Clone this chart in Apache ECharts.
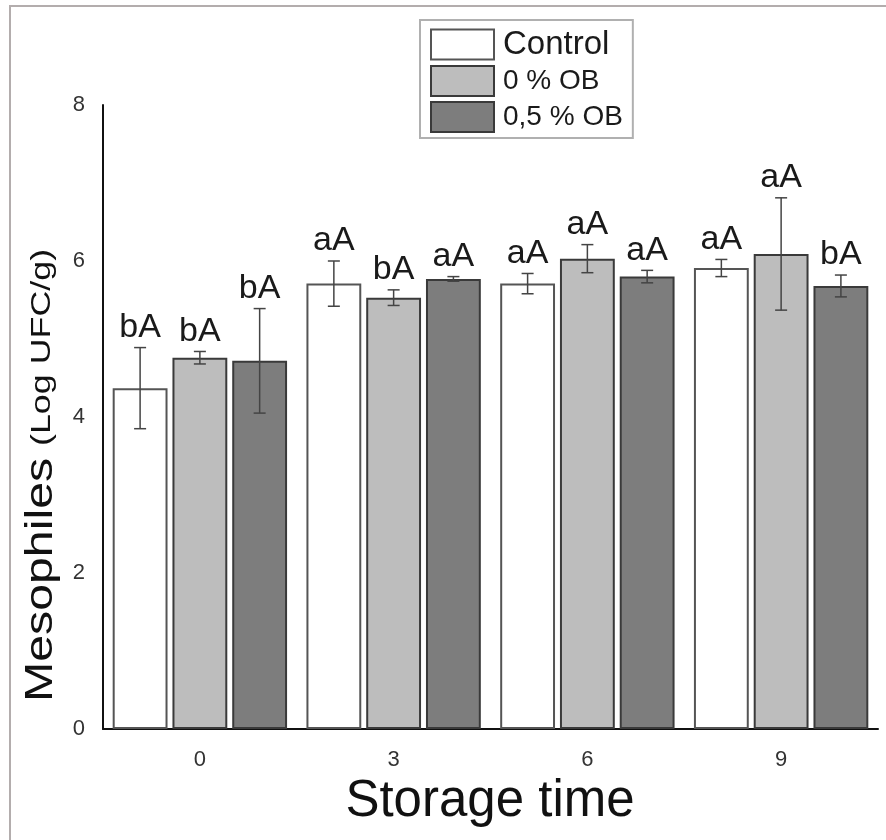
<!DOCTYPE html>
<html>
<head>
<meta charset="utf-8">
<script src="https://cdn.jsdelivr.net/npm/echarts@6/dist/echarts.min.js"></script>
<style>
html,body{margin:0;padding:0;background:#fff;}
#chart{width:886px;height:840px;}
</style>
</head>
<body>
<div id="chart"></div>
<script>
const categories = ['0', '3', '6', '9'];
const seriesNames = ['Control', '0 % OB', '0,5 % OB'];
const controlMean = [4.37, 5.71, 5.71, 5.91];
const controlErr = [0.52, 0.29, 0.13, 0.11];
const controlLetters = ['bA', 'aA', 'aA', 'aA'];
const ob0Mean = [4.76, 5.53, 6.03, 6.09];
const ob0Err = [0.08, 0.10, 0.18, 0.72];
const ob0Letters = ['bA', 'bA', 'aA', 'aA'];
const ob05Mean = [4.72, 5.77, 5.80, 5.68];
const ob05Err = [0.67, 0.03, 0.08, 0.14];
const ob05Letters = ['bA', 'aA', 'aA', 'bA'];
const yTicks = [0, 2, 4, 6, 8];

const means = [controlMean, ob0Mean, ob05Mean];
const errs = [controlErr, ob0Err, ob05Err];
const letters = [controlLetters, ob0Letters, ob05Letters];
const fills = ['#ffffff', '#bdbdbd', '#7d7d7d'];
const borders = ['#555555', '#3a3a3a', '#3a3a3a'];

const CAT_GAP = 0.10, BAR_GAP = 0.09, NBARS = 3;
const FONT = 'Liberation Sans, Arial, sans-serif';

function errRender(idx) {
  return function (params, api) {
    const cat = api.value(0), m = api.value(1), e = api.value(2);
    const catW = api.size([1, 0])[0];
    const usable = catW * (1 - CAT_GAP);
    const bw = usable / (NBARS + (NBARS - 1) * BAR_GAP);
    const off = -usable / 2 + idx * bw * (1 + BAR_GAP) + bw / 2;
    const base = api.coord([cat, m]);
    const x = base[0] + off;
    const top = api.coord([cat, m + e])[1];
    const bot = api.coord([cat, m - e])[1];
    const cap = 6;
    const st = { stroke: '#444', lineWidth: 1.5 };
    return {
      type: 'group',
      children: [
        { type: 'line', shape: { x1: x, y1: top, x2: x, y2: bot }, style: st },
        { type: 'line', shape: { x1: x - cap, y1: top, x2: x + cap, y2: top }, style: st },
        { type: 'line', shape: { x1: x - cap, y1: bot, x2: x + cap, y2: bot }, style: st },
        { type: 'text', x: x, y: top - 3,
          style: { text: letters[idx][params.dataIndex], fill: '#1a1a1a', font: '34px ' + FONT,
                   align: 'center', verticalAlign: 'bottom' } }
      ]
    };
  };
}

const series = [];
seriesNames.forEach((name, i) => {
  series.push({
    name: name, type: 'bar',
    barCategoryGap: (CAT_GAP * 100) + '%', barGap: (BAR_GAP * 100) + '%',
    data: means[i],
    itemStyle: { color: fills[i], borderColor: borders[i], borderWidth: 2 },
    emphasis: { disabled: true }
  });
});
seriesNames.forEach((name, i) => {
  series.push({
    type: 'custom', name: name + ' err', z: 5,
    data: categories.map((c, k) => [k, means[i][k], errs[i][k]]),
    encode: { x: 0, y: 1 },
    renderItem: errRender(i),
    silent: true
  });
});

const chart = echarts.init(document.getElementById('chart'), null, { renderer: 'canvas' });
chart.setOption({
  backgroundColor: '#ffffff',
  animation: false,
  textStyle: { fontFamily: FONT },
  grid: { left: 103, right: 8, top: 105, bottom: 111, containLabel: false },
  legend: {
    data: [
      { name: seriesNames[0], textStyle: { fontSize: 33 } },
      { name: seriesNames[1], textStyle: { fontSize: 28 } },
      { name: seriesNames[2], textStyle: { fontSize: 28 } }
    ],
    orient: 'vertical', left: 420, top: 20,
    itemWidth: 63, itemHeight: 30, itemGap: 4,
    padding: [8, 10, 5, 10],
    borderColor: '#b0b0b0', borderWidth: 2,
    icon: 'rect',
    textStyle: { color: '#1a1a1a', fontFamily: FONT, lineHeight: 30, padding: [0, 0, 0, 4] },
    selectedMode: false
  },
  xAxis: {
    type: 'category', data: categories,
    axisLine: { lineStyle: { color: '#111', width: 2 } },
    axisTick: { show: false },
    axisLabel: { fontSize: 22, color: '#333', margin: 20, fontFamily: FONT }
  },
  yAxis: {
    type: 'value', min: yTicks[0], max: yTicks[yTicks.length - 1], interval: 2,
    axisLine: { show: true, lineStyle: { color: '#111', width: 2 } },
    axisTick: { show: false },
    splitLine: { show: false },
    axisLabel: { fontSize: 22, color: '#333', margin: 18, fontFamily: FONT }
  },
  graphic: [
    { type: 'rect', shape: { x: 10, y: 6, width: 900, height: 900 },
      style: { fill: 'none', stroke: '#b3adad', lineWidth: 2 }, silent: true },
    { type: 'text', x: 42, y: 702, rotation: Math.PI / 2, scaleX: 1.27,
      style: { text: 'Mesophiles', font: '38px ' + FONT, fill: '#111', align: 'left', verticalAlign: 'middle' } },
    { type: 'text', x: 42, y: 446, rotation: Math.PI / 2, scaleX: 1.28,
      style: { text: '(Log UFC/g)', font: '28px ' + FONT, fill: '#111', align: 'left', verticalAlign: 'middle' } },
    { type: 'text', x: 490, y: 802,
      style: { text: 'Storage time', font: '51px ' + FONT, fill: '#111', align: 'center', verticalAlign: 'middle' } }
  ],
  series: series
});
</script>
</body>
</html>
